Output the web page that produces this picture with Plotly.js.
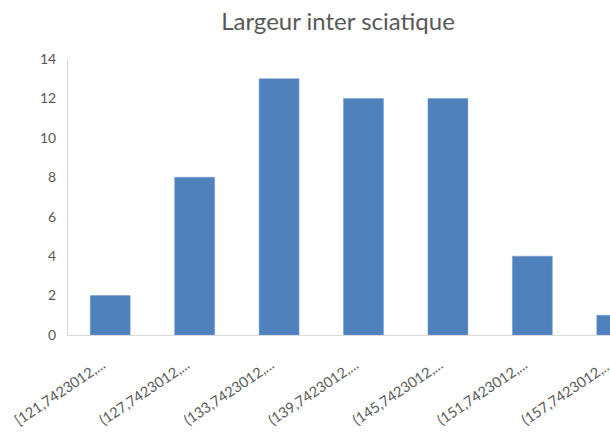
<!DOCTYPE html>
<html>
<head>
<meta charset="utf-8">
<script src="https://cdn.plot.ly/plotly-3.0.1.min.js"></script>
<style>
html,body{margin:0;padding:0;overflow:hidden;width:610px;height:435px;background:#fff;}
#chart{width:676px;height:435px;}
</style>
</head>
<body>
<div id="chart"></div>
<script>
const categories = [
  "[121,7423012,...",
  "(127,7423012,...",
  "(133,7423012,...",
  "(139,7423012,...",
  "(145,7423012,...",
  "(151,7423012,...",
  "(157,7423012,..."
];
const counts = [2, 8, 13, 12, 12, 4, 1];
const yTicks = [0, 2, 4, 6, 8, 10, 12, 14];
const chartTitle = "Largeur inter sciatique";

const fontFam = "Lato, 'Open Sans', 'Noto Sans', sans-serif";

Plotly.newPlot('chart', [{
  type: 'bar',
  x: categories,
  y: counts,
  marker: {color: '#4f81bd', line: {color: '#6f9ad0', width: 0.5}},
  hoverinfo: 'none'
}], {
  width: 676,
  height: 435,
  margin: {l: 68, r: 16.5, t: 59, b: 100},
  paper_bgcolor: '#ffffff',
  plot_bgcolor: '#ffffff',
  bargap: 0.527,
  showlegend: false,
  title: {
    text: chartTitle,
    x: 0.5, xref: 'container', xanchor: 'center',
    y: 1 - 22/435, yref: 'container', yanchor: 'middle',
    font: {family: fontFam, size: 24, color: '#595959'}
  },
  xaxis: {
    type: 'category',
    range: [-0.5, 6.5],
    tickangle: -34,
    showgrid: false,
    zeroline: false,
    showline: true,
    linecolor: '#d9d9d9',
    linewidth: 1,
    ticks: '',
    ticklabelstandoff: 15,
    ticklabelshift: -8,
    tickfont: {family: fontFam, size: 14.5, color: '#595959'},
    fixedrange: true
  },
  yaxis: {
    range: [0, 14],
    tickvals: yTicks,
    showgrid: false,
    zeroline: false,
    showline: true,
    linecolor: '#d9d9d9',
    linewidth: 1,
    ticks: '',
    ticklabelstandoff: 8,
    tickfont: {family: fontFam, size: 14, color: '#595959'},
    fixedrange: true
  }
}, {displayModeBar: false, staticPlot: true});
</script>
</body>
</html>
